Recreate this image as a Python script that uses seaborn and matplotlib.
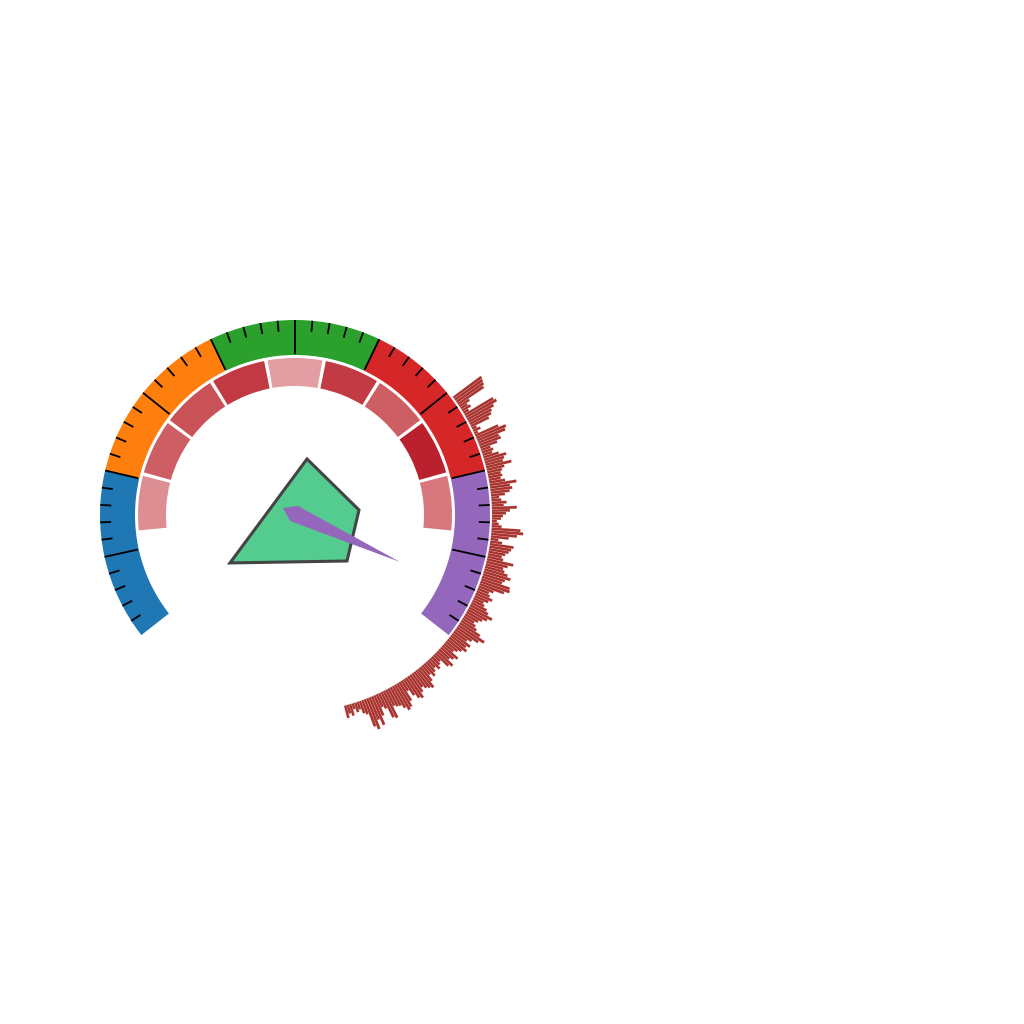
import numpy as np
import matplotlib
matplotlib.use("Agg")
import matplotlib.pyplot as plt
import seaborn as sns

sns.set_theme(style="white")

# ---- data ----
band_colors = sns.color_palette("tab10")[:5]          # blue, orange, green, red, purple
band_start_deg = -128.0
band_span_deg = 51.2
n_bands = 5
minor_per_major = 5

inner_colors = ["#DC8E93", "#CD5F64", "#C95158", "#C03943", "#E29EA3",
                "#C13A44", "#CD5F64", "#BA202E", "#D8787E"]
inner_start_deg = -96.3
inner_end_deg = 96.3

bar_start_deg = 53.5
bar_step_deg = 0.75
bar_lengths = [
    35, 34, 33, 31, 12, 8, 10, 6, 33, 35,
    30, 26, 24, 20, 5, 8, 4, 25, 32, 30,
    22, 23, 18, 10, 12, 10, 16, 23, 20, 18,
    26, 18, 15, 13, 14, 12, 16, 27, 20, 22,
    19, 14, 8, 10, 15, 12, 25, 18, 14, 11,
    9, 5, 7, 10, 29, 32, 26, 18, 8, 12,
    24, 22, 20, 17, 14, 16, 27, 22, 18, 20,
    24, 28, 23, 21, 30, 31, 26, 16, 12, 14,
    18, 15, 11, 13, 17, 20, 26, 22, 18, 15,
    12, 15, 18, 24, 31, 26, 20, 16, 22, 19,
    22, 18, 15, 12, 20, 17, 14, 21, 18, 9,
    11, 14, 10, 13, 16, 12, 18, 24, 22, 20,
    17, 21, 26, 24, 19, 12, 22, 27, 29, 25,
    21, 20, 18, 30, 28, 17, 14, 22, 31, 24,
    33, 29, 15, 13, 8, 10, 6, 12, 9, 13,
]
bar_color = "#A9332E"

poly_theta_deg = [12.1, 85.5, 131.5, 233.6]
poly_r = [57.3, 64.2, 69.4, 80.8]

needle_theta_deg = [-59.7, 18.4, 114.1, 219.8]
needle_r = [13.9, 9.5, 115.0, 7.8]

# ---- figure ----
fig = plt.figure(figsize=(10.24, 10.24), dpi=100)
fig.patch.set_facecolor("white")
ax = fig.add_axes([45 / 1024, (1024 - 765) / 1024, 500 / 1024, 500 / 1024],
                  projection="polar")
ax.set_theta_zero_location("N")
ax.set_theta_direction(-1)
ax.set_ylim(0, 250)
ax.axis("off")

R_IN, R_OUT = 160, 195
# outer bands
for i in range(n_bands):
    c = band_start_deg + band_span_deg * (i + 0.5)
    ax.bar(np.deg2rad(c), R_OUT - R_IN, width=np.deg2rad(band_span_deg),
           bottom=R_IN, color=band_colors[i], edgecolor="none", linewidth=0)

# ticks
major_step = band_span_deg / 2
n_major = int(round(n_bands * band_span_deg / major_step))
for k in range(1, n_major):
    a = np.deg2rad(band_start_deg + k * major_step)
    ax.plot([a, a], [R_IN + 1, R_OUT], color="black", lw=1.3, solid_capstyle="butt")
minor_step = major_step / minor_per_major
for k in range(1, n_major * minor_per_major):
    if k % minor_per_major == 0:
        continue
    a = np.deg2rad(band_start_deg + k * minor_step)
    ax.plot([a, a], [R_OUT - 11, R_OUT], color="black", lw=1.3, solid_capstyle="butt")

# inner ring
n_in = len(inner_colors)
seg = (inner_end_deg - inner_start_deg) / n_in
gap = 1.3
for i, col in enumerate(inner_colors):
    c = inner_start_deg + seg * (i + 0.5)
    ax.bar(np.deg2rad(c), 28, width=np.deg2rad(seg - gap), bottom=129,
           color=col, edgecolor="none", linewidth=0)

# radial bars
thetas = [bar_start_deg + bar_step_deg * i for i in range(len(bar_lengths))]
ax.bar(np.deg2rad(thetas), bar_lengths, width=np.deg2rad(bar_step_deg), bottom=197,
       color=bar_color, edgecolor=(1, 1, 1, 0.3), linewidth=0.25)

# central polygon
ax.fill(np.deg2rad(poly_theta_deg), poly_r, facecolor="#55CC8F",
        edgecolor="#444444", linewidth=2.2, joinstyle="miter")

# needle
ax.fill(np.deg2rad(needle_theta_deg), needle_r, facecolor="#9467bd",
        edgecolor="none", linewidth=0)

fig.savefig("out.png", dpi=100, facecolor="white")
